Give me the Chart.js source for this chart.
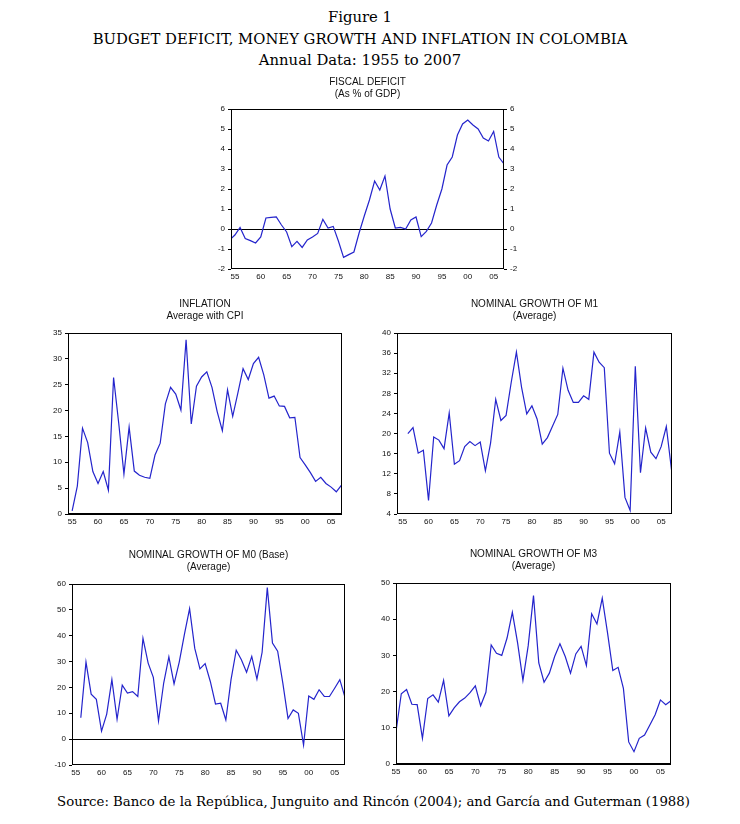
<!DOCTYPE html>
<html>
<head>
<meta charset="utf-8">
<script src="https://cdn.jsdelivr.net/npm/chart.js@4.4.1/dist/chart.umd.min.js"></script>
<style>
body { margin: 0; background: #fff; width: 740px; height: 824px; position: relative; overflow: hidden; }
canvas { position: absolute; }
.head { position: absolute; left: 0; top: 6px; width: 720px; text-align: center; font-family: 'DejaVu Serif'; font-size: 14.8px; line-height: 21.5px; color: #000; }
.src { position: absolute; left: 0; top: 794px; width: 747px; text-align: center; font-family: 'DejaVu Serif'; font-size: 13.3px; color: #000; }
</style>
</head>
<body>
<div class="head">Figure 1<br>BUDGET DEFICIT, MONEY GROWTH AND INFLATION IN COLOMBIA<br>Annual Data: 1955 to 2007</div>

<canvas id="fiscal" width="329" height="209" style="left:203px;top:76px"></canvas>
<canvas id="inflation" width="320" height="232" style="left:28px;top:298px"></canvas>
<canvas id="m1" width="321" height="232" style="left:357px;top:298px"></canvas>
<canvas id="m0" width="319" height="232" style="left:32px;top:549px"></canvas>
<canvas id="m3" width="321" height="232" style="left:356px;top:548px"></canvas>

<div class="src">Source: Banco de la República, Junguito and Rincón (2004); and García and Guterman (1988)</div>

<script>
// years 1955 - 2007
var years = [1955, 1956, 1957, 1958, 1959, 1960, 1961, 1962, 1963, 1964,
             1965, 1966, 1967, 1968, 1969, 1970, 1971, 1972, 1973, 1974,
             1975, 1976, 1977, 1978, 1979, 1980, 1981, 1982, 1983, 1984,
             1985, 1986, 1987, 1988, 1989, 1990, 1991, 1992, 1993, 1994,
             1995, 1996, 1997, 1998, 1999, 2000, 2001, 2002, 2003, 2004,
             2005, 2006, 2007];
var fiscalYears = [1954].concat(years);
var moneyYears = years.slice(1); // M0 and M1 start in 1956

var yearTicks = [1955, 1960, 1965, 1970, 1975, 1980, 1985, 1990, 1995, 2000, 2005];

// fiscal deficit, % of GDP (1954-2007)
var fiscalDeficit = [-0.55, -0.3, 0.08, -0.48, -0.58, -0.7, -0.4, 0.55, 0.58, 0.6,
                     0.2, -0.15, -0.88, -0.62, -0.92, -0.55, -0.4, -0.22, 0.48, 0.05,
                     0.13, -0.6, -1.42, -1.28, -1.15, -0.2, 0.65, 1.45, 2.4, 1.95,
                     2.65, 1.0, 0.05, 0.08, 0.0, 0.45, 0.6, -0.38, -0.12, 0.3,
                     1.2, 2.0, 3.2, 3.6, 4.7, 5.25, 5.45, 5.2, 5.0, 4.55,
                     4.4, 4.88, 3.6, 3.25];

// inflation, CPI (1955-2007)
var inflation = [0.6, 5.4, 16.6, 13.8, 8.2, 5.9, 8.2, 4.6, 26.4, 17.5,
                 7.7, 16.8, 8.3, 7.5, 7.1, 6.9, 11.4, 13.7, 21.3, 24.5,
                 23.2, 20.1, 33.7, 17.4, 24.7, 26.5, 27.5, 24.5, 19.8, 16.1,
                 24.0, 18.9, 23.4, 28.1, 26.0, 29.1, 30.3, 26.9, 22.4, 22.8,
                 20.9, 20.8, 18.6, 18.7, 10.9, 9.5, 8.0, 6.3, 7.1, 5.9,
                 5.2, 4.3, 5.6];

// M1 growth (1956-2007)
var growthM1 = [20.0, 21.2, 16.1, 16.7, 6.7, 19.3, 18.7, 17.0, 24.1, 13.9,
                14.6, 17.4, 18.4, 17.6, 18.3, 12.6, 18.1, 26.8, 22.6, 23.6,
                30.2, 36.2, 29.2, 23.9, 25.5, 22.9, 17.9, 19.2, 21.5, 23.8,
                33.0, 28.6, 26.2, 26.2, 27.5, 26.8, 36.2, 34.2, 33.1, 16.1,
                14.0, 20.3, 7.3, 4.7, 33.4, 12.2, 21.1, 16.3, 15.0, 17.4,
                21.4, 12.8];

// M0 growth (1956-2007)
var growthM0 = [8.3, 29.8, 17.4, 15.4, 3.1, 9.7, 23.0, 7.7, 20.9, 17.8,
                18.4, 16.5, 39.0, 29.4, 23.9, 7.0, 21.7, 31.8, 21.4, 29.8,
                40.5, 50.5, 35.1, 27.2, 29.2, 22.3, 13.6, 13.9, 7.4, 23.0,
                34.4, 30.7, 25.9, 32.0, 23.2, 33.6, 58.6, 37.2, 34.0, 21.7,
                8.0, 11.3, 10.0, -2.3, 16.7, 15.4, 19.1, 16.5, 16.5, 19.7,
                23.0, 16.2];

// M3 growth (1955-2007)
var growthM3 = [8.9, 19.4, 20.6, 16.5, 16.4, 7.1, 18.1, 19.1, 17.1, 23.1,
                13.3, 15.5, 17.2, 18.2, 19.7, 21.6, 16.1, 19.8, 32.9, 30.6,
                30.0, 34.8, 41.9, 33.4, 23.1, 32.7, 46.5, 27.9, 22.6, 25.1,
                29.7, 33.2, 29.7, 25.1, 30.4, 32.5, 27.2, 41.5, 38.7, 45.8,
                36.2, 25.8, 26.7, 20.9, 6.1, 3.4, 7.1, 8.0, 10.8, 13.6,
                17.7, 16.4, 17.5];

var tickFont = { family: 'Liberation Sans', size: 8 };
var titleFont = { family: 'Liberation Sans', size: 10, weight: 'normal', lineHeight: 1.2 };

var framePlugin = {
    id: 'frame',
    afterDatasetsDraw: function (chart) {
        var a = chart.chartArea, c = chart.ctx;
        c.save();
        c.strokeStyle = '#000';
        c.lineWidth = 1;
        c.strokeRect(a.left + 0.5, a.top + 0.5, a.right - a.left - 1, a.bottom - a.top - 1);
        c.restore();
    }
};

function points(xs, ys) {
    return xs.map(function (x, i) { return { x: x, y: ys[i] }; });
}

function yAxis(min, max, step, pos, width) {
    return {
        position: pos,
        min: min,
        max: max,
        afterFit: function (s) { s.width = width; },
        ticks: { stepSize: step, font: tickFont, color: '#111', padding: 3 },
        grid: {
            drawOnChartArea: pos == 'left',
            color: function (c) { return c.tick && c.tick.value === 0 ? '#000' : 'rgba(0,0,0,0)'; },
            tickColor: '#000',
            tickLength: 3
        },
        border: { display: false }
    };
}

function makeChart(id, title, xs, ys, xMin, xMax, yMin, yMax, yStep, opts) {
    opts = opts || {};
    var scales = {
        x: {
            type: 'linear',
            min: xMin,
            max: xMax,
            afterBuildTicks: function (s) { s.ticks = yearTicks.map(function (v) { return { value: v }; }); },
            afterFit: function (s) { s.height = 16; },
            ticks: {
                font: tickFont, color: '#111', padding: 3, maxRotation: 0, autoSkip: false,
                callback: function (v) { return String(v % 100).padStart(2, '0'); }
            },
            grid: { display: false, drawTicks: false },
            border: { display: false }
        },
        y: yAxis(yMin, yMax, yStep, 'left', opts.leftWidth || 40)
    };
    if (opts.rightAxis) {
        scales.y2 = yAxis(yMin, yMax, yStep, 'right', opts.leftWidth || 40);
    }
    return new Chart(document.getElementById(id), {
        type: 'line',
        data: {
            datasets: [{
                data: points(xs, ys),
                borderColor: '#2424cc',
                borderWidth: 1.2,
                pointRadius: 0,
                tension: 0
            }]
        },
        options: {
            responsive: false,
            animation: false,
            devicePixelRatio: 1,
            layout: { padding: { right: opts.rightAxis ? 0 : 6 } },
            plugins: {
                legend: { display: false },
                tooltip: { enabled: false },
                title: {
                    display: true,
                    text: title,
                    fullSize: false,
                    font: titleFont,
                    color: '#111',
                    padding: { top: 0, bottom: opts.titleGap || 11 }
                }
            },
            scales: scales
        },
        plugins: [framePlugin]
    });
}

makeChart('fiscal', ['FISCAL DEFICIT', '(As % of GDP)'], fiscalYears, fiscalDeficit,
          1954.25, 2007, -2, 6, 1, { rightAxis: true, leftWidth: 28, titleGap: 9 });
makeChart('inflation', ['INFLATION', 'Average with CPI'], years, inflation,
          1954.2, 2007.1, 0, 35, 5);
makeChart('m1', ['NOMINAL GROWTH OF M1', '(Average)'], moneyYears, growthM1,
          1953.9, 2007.1, 4, 40, 4);
makeChart('m0', ['NOMINAL GROWTH OF M0 (Base)', '(Average)'], moneyYears, growthM0,
          1954.3, 2007, -10, 60, 10);
makeChart('m3', ['NOMINAL GROWTH OF M3', '(Average)'], years, growthM3,
          1955, 2007, 0, 50, 10);
</script>
</body>
</html>
